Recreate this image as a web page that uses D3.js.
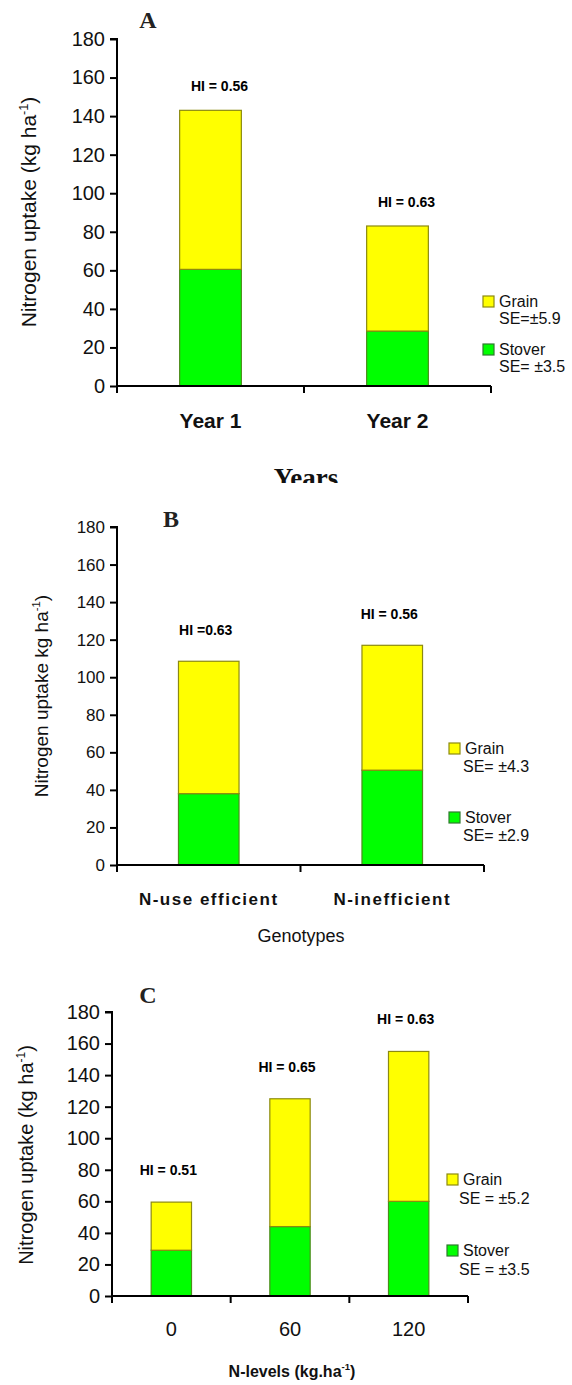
<!DOCTYPE html>
<html>
<head>
<meta charset="utf-8">
<script src="https://d3js.org/d3.v7.min.js"></script>
<style>
  body { margin: 0; background: #fff; }
  svg { display: block; }
</style>
</head>
<body>
<script>
// tick values shared by all three panels
const yTicks = [0, 20, 40, 60, 80, 100, 120, 140, 160, 180];

// Panel A - years
const yearCats = ['Year 1', 'Year 2'];
const yearStover = [60.5, 28.5];
const yearGrain = [82.5, 54.5];
const yearHI = ['HI = 0.56', 'HI = 0.63'];
const yearSE = ['SE=\u00b15.9', 'SE= \u00b13.5'];

// Panel B - genotypes
const genoCats = ['N-use efficient', 'N-inefficient'];
const genoStover = [38, 50.5];
const genoGrain = [70.5, 66.5];
const genoHI = ['HI =0.63', 'HI = 0.56'];
const genoSE = ['SE= \u00b14.3', 'SE= \u00b12.9'];

// Panel C - N levels
const nCats = ['0', '60', '120'];
const nStover = [29, 44, 60];
const nGrain = [30.5, 81, 95];
const nHI = ['HI = 0.51', 'HI = 0.65', 'HI = 0.63'];
const nSE = ['SE = \u00b15.2', 'SE = \u00b13.5'];

const W = 572, H = 1385;
const sans = 'Liberation Sans, Arial, sans-serif';
const serif = 'Liberation Serif, Times New Roman, serif';

const svg = d3.select('body').append('svg')
    .attr('width', W)
    .attr('height', H);

svg.append('rect').attr('width', W).attr('height', H).attr('fill', '#fff');

// clip used for the half-cut "Years" title
svg.append('defs').append('clipPath').attr('id', 'cutA')
    .append('rect').attr('x', 0).attr('y', 0).attr('width', W).attr('height', 483);

function drawPanel(p) {
    const g = svg.append('g');

    const x = d3.scaleBand()
        .domain(p.cats)
        .range([p.left, p.right])
        .padding(0);

    const y = d3.scaleLinear()
        .domain([0, 180])
        .range([p.bottom, p.top]);

    const barW = x.bandwidth() * p.barFrac;
    const bx = d => x(d) + (x.bandwidth() - barW) / 2;

    // stover (bottom)
    g.selectAll('.stover')
        .data(p.cats)
        .enter().append('rect')
        .attr('x', d => bx(d))
        .attr('y', (d, i) => y(p.stover[i]))
        .attr('width', barW)
        .attr('height', (d, i) => y(0) - y(p.stover[i]))
        .attr('fill', '#00ff00')
        .attr('stroke', '#4c8c1c')
        .attr('stroke-width', 1.2);

    // grain stacked on top
    g.selectAll('.grain')
        .data(p.cats)
        .enter().append('rect')
        .attr('x', d => bx(d))
        .attr('y', (d, i) => y(p.stover[i] + p.grain[i]))
        .attr('width', barW)
        .attr('height', (d, i) => y(p.stover[i]) - y(p.stover[i] + p.grain[i]))
        .attr('fill', '#ffff00')
        .attr('stroke', '#8c8a10')
        .attr('stroke-width', 1.2);

    // HI labels
    g.selectAll('.hi')
        .data(p.cats)
        .enter().append('text')
        .attr('x', d => x(d) + x.bandwidth() / 2 + p.hiDx)
        .attr('y', (d, i) => y(p.stover[i] + p.grain[i]) - p.hiDy)
        .attr('text-anchor', 'middle')
        .style('font-family', sans)
        .style('font-weight', 'bold')
        .style('font-size', '14px')
        .text((d, i) => p.hi[i]);

    // y axis
    const yAxis = d3.axisLeft(y).tickValues(yTicks).tickSize(7).tickPadding(5);
    const ya = g.append('g')
        .attr('transform', 'translate(' + p.left + ',0)')
        .call(yAxis);
    ya.select('.domain').attr('stroke', '#000').attr('stroke-width', 2)
        .attr('d', 'M-7,' + p.top + 'H0V' + p.bottom);
    ya.selectAll('.tick line').attr('stroke', '#000').attr('stroke-width', 2);
    ya.selectAll('.tick text')
        .style('font-family', sans)
        .style('font-size', p.tickFont + 'px')
        .attr('fill', '#111');

    // x axis with ticks at band boundaries
    const xa = g.append('g');
    xa.append('line')
        .attr('x1', p.left).attr('x2', p.right)
        .attr('y1', p.bottom).attr('y2', p.bottom)
        .attr('stroke', '#000').attr('stroke-width', 2);
    const edges = p.cats.map(d => x(d)).concat([p.right]);
    xa.selectAll('.xt')
        .data(edges)
        .enter().append('line')
        .attr('x1', d => d).attr('x2', d => d)
        .attr('y1', p.bottom).attr('y2', p.bottom + 7)
        .attr('stroke', '#000').attr('stroke-width', 2);
    xa.selectAll('.xl')
        .data(p.cats)
        .enter().append('text')
        .attr('x', d => x(d) + x.bandwidth() / 2)
        .attr('y', p.bottom + p.catDy)
        .attr('text-anchor', 'middle')
        .style('font-family', sans)
        .style('font-weight', p.catWeight)
        .style('font-size', p.catFont + 'px')
        .style('letter-spacing', p.catSpacing + 'px')
        .attr('fill', '#111')
        .text(d => d);

    // panel letter
    g.append('text')
        .attr('x', p.letterX)
        .attr('y', p.letterY)
        .attr('text-anchor', 'middle')
        .style('font-family', serif)
        .style('font-weight', 'bold')
        .style('font-size', '24px')
        .attr('fill', '#222')
        .text(p.letter);

    // y axis title
    const yt = g.append('text')
        .attr('transform', 'translate(' + p.yTitleX + ',' + p.yTitleY + ') rotate(-90)')
        .attr('text-anchor', 'middle')
        .style('font-family', sans)
        .style('font-size', p.yTitleFont + 'px')
        .attr('fill', '#111');
    yt.append('tspan').text(p.yTitle);
    yt.append('tspan').attr('dy', -8).style('font-size', (p.yTitleFont * 0.6) + 'px').text('-1');
    yt.append('tspan').attr('dy', 8).text(p.yTitleEnd);

    // x axis title
    const xt = g.append('text')
        .attr('x', p.xTitleX)
        .attr('y', p.xTitleY)
        .attr('text-anchor', 'middle')
        .style('font-family', p.xTitleFamily)
        .style('font-weight', p.xTitleWeight)
        .style('font-size', p.xTitleFont + 'px')
        .attr('fill', '#111');
    if (p.xClip) xt.attr('clip-path', 'url(#' + p.xClip + ')');
    xt.append('tspan').text(p.xTitle);
    if (p.xTitleSup) {
        xt.append('tspan').attr('dy', -7).style('font-size', (p.xTitleFont * 0.6) + 'px').text('-1');
        xt.append('tspan').attr('dy', 7).text(')');
    }

    // legend
    const lg = g.append('g');
    const items = [
        {name: 'Grain', fill: '#ffff00', stroke: '#8c8a10', se: p.se[0], y: p.legY[0]},
        {name: 'Stover', fill: '#00ff00', stroke: '#2f7a2f', se: p.se[1], y: p.legY[1]}
    ];
    items.forEach(it => {
        lg.append('rect')
            .attr('x', p.legX).attr('y', it.y - 11)
            .attr('width', 11).attr('height', 11)
            .attr('fill', it.fill).attr('stroke', it.stroke).attr('stroke-width', 1.2);
        lg.append('text')
            .attr('x', p.legX + 16).attr('y', it.y)
            .style('font-family', sans).style('font-size', '16px')
            .attr('fill', '#111')
            .text(it.name);
        lg.append('text')
            .attr('x', p.legX + p.seDx).attr('y', it.y + p.seDy)
            .style('font-family', sans).style('font-size', '16px')
            .attr('fill', '#111')
            .text(it.se);
    });
}

drawPanel({
    cats: yearCats, stover: yearStover, grain: yearGrain, hi: yearHI, se: yearSE,
    left: 117, right: 491, top: 39, bottom: 386, barFrac: 0.33,
    hiDx: 9, hiDy: 19, tickFont: 20, catFont: 21, catWeight: 'bold', catDy: 42, catSpacing: 0,
    letter: 'A', letterX: 148, letterY: 28,
    yTitle: 'Nitrogen uptake (kg ha', yTitleEnd: ')', yTitleX: 36, yTitleY: 212, yTitleFont: 21,
    xTitle: 'Years', xTitleX: 306, xTitleY: 487, xTitleFont: 27, xTitleWeight: 'bold',
    xTitleFamily: serif, xClip: 'cutA', xTitleSup: false,
    legX: 483, legY: [307, 355], seDx: 16, seDy: 17
});

drawPanel({
    cats: genoCats, stover: genoStover, grain: genoGrain, hi: genoHI, se: genoSE,
    left: 117, right: 484, top: 527, bottom: 865, barFrac: 0.33,
    hiDx: -3, hiDy: 26, tickFont: 17, catFont: 17, catWeight: 'bold', catDy: 40, catSpacing: 1.5,
    letter: 'B', letterX: 171, letterY: 527,
    yTitle: 'Nitrogen uptake kg ha', yTitleEnd: ')', yTitleX: 48, yTitleY: 696, yTitleFont: 19,
    xTitle: 'Genotypes', xTitleX: 301, xTitleY: 942, xTitleFont: 18, xTitleWeight: 'normal',
    xTitleFamily: sans, xClip: null, xTitleSup: false,
    legX: 449, legY: [754, 823], seDx: 14, seDy: 18
});

drawPanel({
    cats: nCats, stover: nStover, grain: nGrain, hi: nHI, se: nSE,
    left: 112, right: 468, top: 1012, bottom: 1296, barFrac: 0.34,
    hiDx: -3, hiDy: 27, tickFont: 20, catFont: 20, catWeight: 'normal', catDy: 40, catSpacing: 0,
    letter: 'C', letterX: 148, letterY: 1003,
    yTitle: 'Nitrogen uptake (kg ha', yTitleEnd: ')', yTitleX: 33, yTitleY: 1155, yTitleFont: 20,
    xTitle: 'N-levels (kg.ha', xTitleX: 292, xTitleY: 1377, xTitleFont: 16, xTitleWeight: 'bold',
    xTitleFamily: sans, xClip: null, xTitleSup: true,
    legX: 447, legY: [1185, 1256], seDx: 12, seDy: 19
});
</script>
</body>
</html>
